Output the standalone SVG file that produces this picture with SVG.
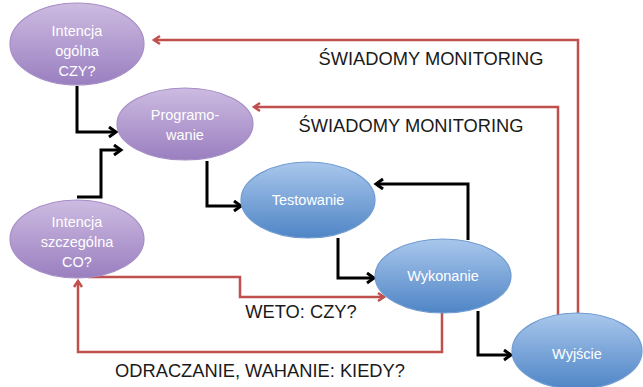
<svg xmlns="http://www.w3.org/2000/svg" width="643" height="387" viewBox="0 0 643 387">
<style>
.np{fill:url(#gp);stroke:#a58dc6;stroke-width:1.2}
.nb{fill:url(#gb);stroke:#6f9bd1;stroke-width:1.2}
.nt{font-family:"Liberation Sans",Arial,sans-serif;font-size:14.5px;fill:#ffffff;text-anchor:middle}
.lb{font-family:"Liberation Sans",Arial,sans-serif;font-size:18.3px;fill:#1a1a1a;text-anchor:middle}
.k{fill:none;stroke:#000;stroke-width:3;marker-end:url(#ak)}
.r{fill:none;stroke:#c0504d;stroke-width:2.5;marker-end:url(#ar)}
</style>
<defs>
<linearGradient id="gp" x1="0" y1="0" x2="0" y2="1">
<stop offset="0" stop-color="#cdbbe1"/><stop offset="1" stop-color="#9a7fc0"/>
</linearGradient>
<linearGradient id="gb" x1="0" y1="0" x2="0" y2="1">
<stop offset="0" stop-color="#a9c7ec"/><stop offset="1" stop-color="#4f85c6"/>
</linearGradient>
<marker id="ak" markerUnits="userSpaceOnUse" markerWidth="14" markerHeight="14" refX="10" refY="6" orient="auto">
<path d="M3,1 L10,6 L3,11" fill="none" stroke="#000" stroke-width="3"/>
</marker>
<marker id="ar" markerUnits="userSpaceOnUse" markerWidth="14" markerHeight="14" refX="10" refY="6" orient="auto">
<path d="M4,2 L10,6 L4,10" fill="none" stroke="#c0504d" stroke-width="2.5"/>
</marker>
</defs>
<g id="connectors">
<polyline class="k" points="77,86 77,132 116,132"/>
<polyline class="k" points="77,197 101,197 101,150 121,150"/>
<polyline class="k" points="207,161 207,206 241,206"/>
<polyline class="k" points="338,238 338,278 374,278"/>
<polyline class="k" points="468,240 468,184 376,184"/>
<polyline class="k" points="478,311 478,355 511,355"/>
<polyline class="r" points="578,315 578,40 154,40"/>
<polyline class="r" points="558,316 558,107 254,107"/>
<polyline class="r" points="88,277 240,277 240,297 384,297"/>
<polyline class="r" points="442,312 442,352 78,352 78,281"/>
</g>
<g id="n-intencja-ogolna">
<ellipse class="np" cx="77" cy="44" rx="67" ry="41"/>
<text class="nt" x="77" y="36">Intencja</text>
<text class="nt" x="77" y="56">ogólna</text>
<text class="nt" x="77" y="76">CZY?</text>
</g>
<g id="n-programowanie">
<ellipse class="np" cx="185" cy="124" rx="68" ry="36"/>
<text class="nt" x="185" y="120">Programo-</text>
<text class="nt" x="185" y="140">wanie</text>
</g>
<g id="n-intencja-szczegolna">
<ellipse class="np" cx="77" cy="239" rx="67" ry="39"/>
<text class="nt" x="77" y="227">Intencja</text>
<text class="nt" x="77" y="247">szczególna</text>
<text class="nt" x="77" y="267">CO?</text>
</g>
<g id="n-testowanie">
<ellipse class="nb" cx="308" cy="200" rx="67" ry="38"/>
<text class="nt" x="308" y="205">Testowanie</text>
</g>
<g id="n-wykonanie">
<ellipse class="nb" cx="443" cy="276" rx="68" ry="37"/>
<text class="nt" x="443" y="281">Wykonanie</text>
</g>
<g id="n-wyjscie">
<ellipse class="nb" cx="577" cy="351" rx="65" ry="38"/>
<text class="nt" x="577" y="359">Wyjście</text>
</g>
<g id="labels">
<text class="lb" x="431" y="65" font-size="19">ŚWIADOMY MONITORING</text>
<text class="lb" x="411" y="132" font-size="19">ŚWIADOMY MONITORING</text>
<text class="lb" x="301" y="318">WETO: CZY?</text>
<text class="lb" x="260" y="377">ODRACZANIE, WAHANIE: KIEDY?</text>
</g>
</svg>
